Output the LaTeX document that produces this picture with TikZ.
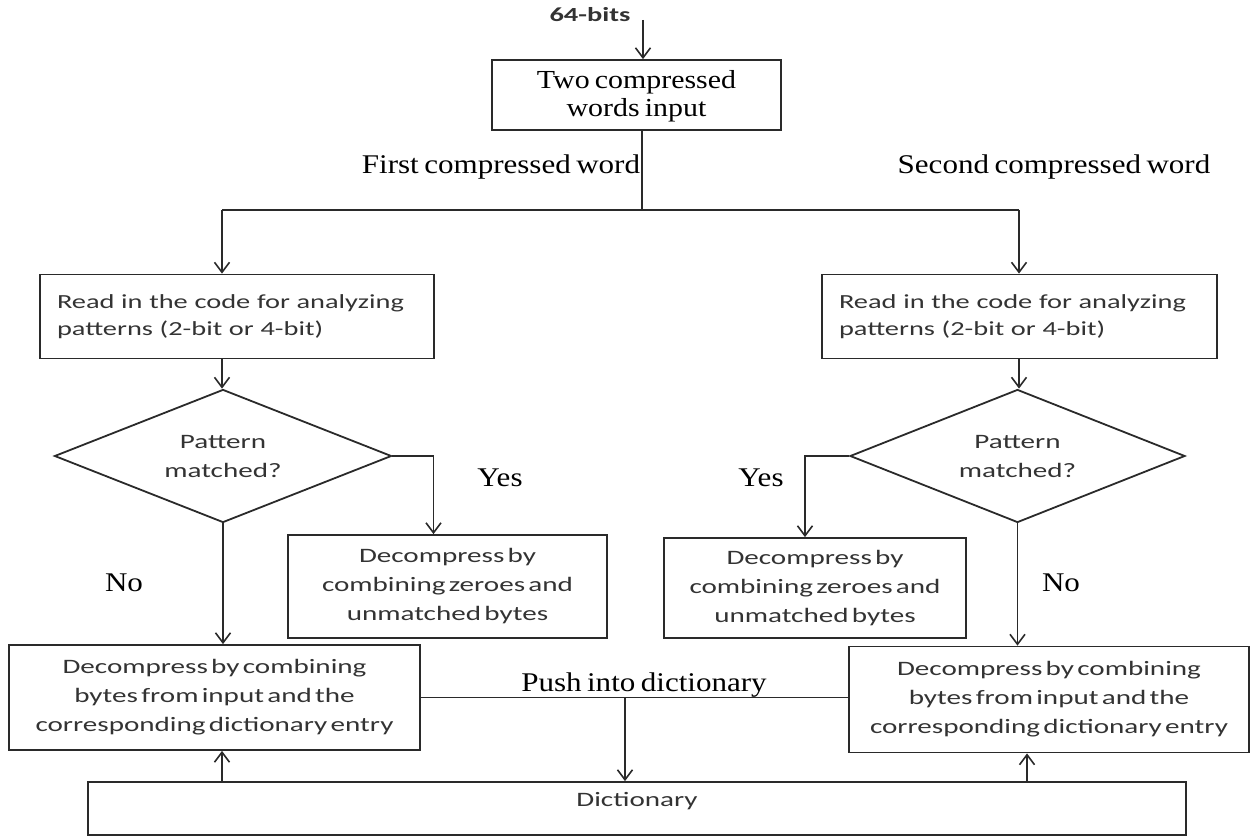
\documentclass[tikz,border=0pt]{standalone}
\usepackage{fontspec}
\setmainfont{Liberation Serif}
\newfontfamily\boxfont[FakeStretch=1.42]{Carlito}
\newfontfamily\readfont[FakeStretch=1.42,WordSpace=0.5]{Carlito}
\newfontfamily\lblfont[FakeStretch=1.15,WordSpace=0.7]{Liberation Serif}
\usetikzlibrary{arrows.meta,shapes.geometric}
\definecolor{ink}{HTML}{2A2A2A}
\definecolor{txt}{HTML}{333333}
\tikzset{
  every node/.style={inner sep=0pt},
  ln/.style={line width=1.8pt,draw=ink},
  arr/.style={ln,-{Straight Barb[length=10pt,width=15pt,line width=1.6pt]}},
  box/.style={ln,rectangle,align=center,font=\boxfont\fontsize{20.5}{29}\selectfont,text=txt},
  dia/.style={ln,diamond,aspect=2.5,align=center,font=\boxfont\fontsize{20.5}{29}\selectfont,text=txt},
  lbl/.style={font=\lblfont\fontsize{27}{30}\selectfont,text=black},
}
\begin{document}
\begin{tikzpicture}[x=1pt,y=-1pt]
\useasboundingbox (0,0) rectangle (1252,837);
% nodes
\node[box,minimum width=289pt,minimum height=70pt,font=\lblfont\fontsize{26}{28}\selectfont,text=black,text depth=4pt] (top) at (636.5,95) {Two compressed\\words input};
\node[box,minimum width=394pt,minimum height=84pt,align=left,text width=360pt,font=\readfont\fontsize{20}{27}\selectfont] (read1) at (237,316.5) {Read in the code for analyzing\\patterns (2-bit or 4-bit)};
\node[box,minimum width=395pt,minimum height=84pt,align=left,text width=361pt,font=\readfont\fontsize{20}{27}\selectfont] (read2) at (1019.5,316.5) {Read in the code for analyzing\\patterns (2-bit or 4-bit)};
\node[dia,minimum width=337pt,minimum height=133pt] (dia1) at (223,456) {Pattern\\matched?};
\node[dia,minimum width=335pt,minimum height=133pt] (dia2) at (1017.5,456) {Pattern\\matched?};
\node[box,minimum width=319pt,minimum height=103pt] (zb1) at (447.5,586.5) {Decompress by\\combining zeroes and\\unmatched bytes};
\node[box,minimum width=302pt,minimum height=100pt] (zb2) at (815,588) {Decompress by\\combining zeroes and\\unmatched bytes};
\node[box,minimum width=411pt,minimum height=105pt] (big1) at (214.5,697.5) {Decompress by combining\\bytes from input and the\\corresponding dictionary entry};
\node[box,minimum width=400pt,minimum height=106pt] (big2) at (1049,699.5) {Decompress by combining\\bytes from input and the\\corresponding dictionary entry};
\node[box,minimum width=1098pt,minimum height=53pt,text depth=18pt] (dict) at (637,808.5) {Dictionary};
% labels
\node[font=\boxfont\bfseries\fontsize{20}{22}\selectfont,text=txt] (bits) at (590,15) {64-bits};
\node[lbl] (l1) at (501,167) {First compressed word};
\node[lbl] (l2) at (1054,167) {Second compressed word};
\node[lbl] (y1) at (500,478) {Yes};
\node[lbl] (y2) at (761,478) {Yes};
\node[lbl] (n1) at (124,583) {No};
\node[lbl] (n2) at (1061,583) {No};
\node[lbl] (push) at (644,685) {Push into dictionary};
% coordinates
\coordinate (inp) at (643,20);
\coordinate (jL) at (222,210);
\coordinate (jR) at (1019,210);
\coordinate (jM) at (642,210);
\coordinate (pd) at (625,0);
\coordinate (uL) at (222,0);
\coordinate (uR) at (1027,0);
% connectors
\draw[arr] (inp) -- (inp |- top.north);
\draw[ln] (top.south -| jM) -- (jM);
\draw[ln] (jL) -- (jR);
\draw[arr] (jL) -- (jL |- read1.north);
\draw[arr] (jR) -- (jR |- read2.north);
\draw[arr] (jL |- read1.south) -- (jL |- dia1.north);
\draw[arr] (jR |- read2.south) -- (jR |- dia2.north);
\draw[arr] (dia1.east) -| ([xshift=-14pt]zb1.north);
\draw[arr] (dia2.west) -| ([xshift=-10pt]zb2.north);
\draw[arr] (dia1.south) -- (dia1.south |- big1.north);
\draw[arr] (dia2.south) -- (dia2.south |- big2.north);
\draw[ln] (big1.east) -- (big1.east -| big2.west);
\draw[arr] (pd |- big1.east) -- (pd |- dict.north);
\draw[arr] (uL |- dict.north) -- (uL |- big1.south);
\draw[arr] (uR |- dict.north) -- (uR |- big2.south);
\end{tikzpicture}
\end{document}
